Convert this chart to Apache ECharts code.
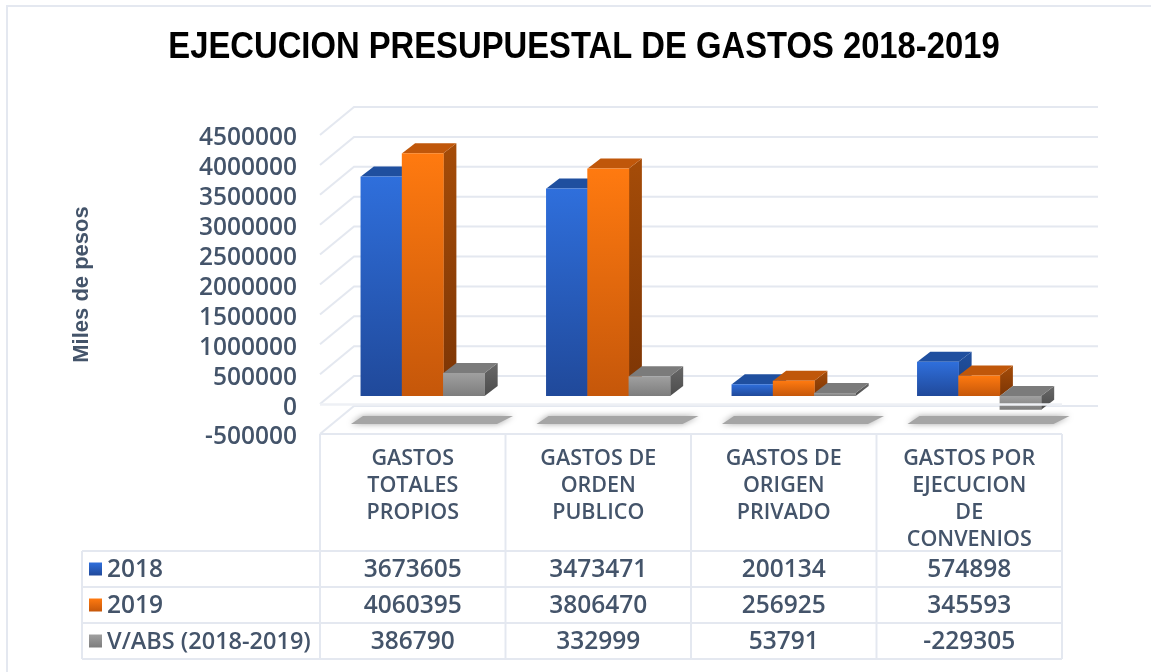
<!DOCTYPE html>
<html>
<head>
    <meta charset="utf-8">
    <title>Ejecucion presupuestal de gastos</title>
    <script src="https://cdn.jsdelivr.net/npm/echarts@6/dist/echarts.min.js"></script>
    <style>html,body{margin:0;padding:0;background:#fff;}</style>
</head>
<body>
    <div id="main" style="width:1151px;height:672px;"></div>
    <script type="text/javascript">
        var categories=['GASTOS\nTOTALES\nPROPIOS','GASTOS DE\nORDEN\nPUBLICO','GASTOS DE\nORIGEN\nPRIVADO','GASTOS POR\nEJECUCION\nDE\nCONVENIOS'];
        var serie2018=[3673605,3473471,200134,574898];
        var serie2019=[4060395,3806470,256925,345593];
        var serieVabs=[386790,332999,53791,-229305];
        var wallTicks=[-500000,0,500000,1000000,1500000,2000000,2500000,3000000,3500000,4000000,4500000];

        var textColor='#44546a';
        var gridColor='#e4e8f0';
        var fontName='"Open Sans"';
        var gridLeft=320,gridTop=135,gridW=742,gridH=299;
        var wallDx=34,wallDy=-28;   //profundidad de las paredes
        var barDx=13,barDy=-10;     //profundidad de la barra
        var frontDx=10,frontDy=-8;  //plano frontal de las barras

        var blue={front:['#2f6fdc','#20499a'],top:'#1f4f9f',side:['#20509f','#1a3f80']};
        var orange={front:['#ff7a10','#c5570a'],top:'#c0570a',side:['#a54c08','#7c3505']};
        var gray={front:['#a0a0a0','#7d7d7d'],top:'#7b7b7b',side:['#686868','#4c4c4c']};

        function vgrad(c){
            return new echarts.graphic.LinearGradient(0,0,0,1,[{offset:0,color:c[0]},{offset:1,color:c[1]}]);
        }
        //barra 3D: cara lateral, superior y frontal
        function bar3d(pos,colors){
            return function(params,api){
                var bw=api.size([1,0])[0];
                var w=bw*0.2225;
                var x=api.coord([api.value(0),0])[0]-1.5*w+pos*w+frontDx;
                var y0=api.coord([0,0])[1]+frontDy;
                var y1=api.coord([0,api.value(1)])[1]+frontDy;
                var yt=Math.min(y0,y1),yb=Math.max(y0,y1);
                return {type:'group',children:[
                    {type:'polygon',shape:{points:[[x+w,yt],[x+w+barDx,yt+barDy],[x+w+barDx,yb+barDy],[x+w,yb]]},style:{fill:vgrad(colors.side)}},
                    {type:'polygon',shape:{points:[[x,yt],[x+barDx,yt+barDy],[x+w+barDx,yt+barDy],[x+w,yt]]},style:{fill:colors.top}},
                    {type:'rect',shape:{x:x-0.3,y:yt,width:w+0.6,height:yb-yt},style:{fill:vgrad(colors.front)}}
                ]};
            };
        }
        function barSeries(name,values,pos,colors,z){
            return {
                name:name,
                type:'custom',
                z:z,
                clip:false,
                renderItem:bar3d(pos,colors),
                encode:{x:0,y:1},
                data:values.map(function(v,i){return [i,v];})
            };
        }
        //paredes del grafico: linea lateral y linea de fondo por cada tick
        var wallSeries={
            type:'custom',
            z:1,
            clip:false,
            silent:true,
            renderItem:function(params,api){
                var y=api.coord([0,api.value(1)])[1];
                var l=params.coordSys.x,r=l+params.coordSys.width;
                return {type:'polyline',shape:{points:[[l,y],[l+wallDx,y+wallDy],[r+wallDx+2,y+wallDy]]},
                    style:{fill:'none',stroke:gridColor,lineWidth:2}};
            },
            encode:{x:0,y:1},
            data:wallTicks.map(function(v){return [0,v];})
        };
        //sombra gris bajo cada categoria
        var shadowSeries={
            type:'custom',
            z:2,
            clip:false,
            silent:true,
            renderItem:function(params,api){
                var c=api.coord([api.value(0),0]);
                var bw=api.size([1,0])[0];
                var x=c[0]-bw/2,y=c[1];
                return {type:'polygon',shape:{points:[[x+43,y+12],[x+193,y+12],[x+177,y+20],[x+31,y+20]]},
                    style:{fill:'#a5a5a5',shadowBlur:6,shadowColor:'#a5a5a5'}};
            },
            encode:{x:0,y:1},
            data:categories.map(function(c,i){return [i,0];})
        };
        //linea frontal del piso, encima de la barra negativa
        var floorSeries={
            type:'custom',
            z:9,
            clip:false,
            silent:true,
            renderItem:function(params,api){
                var y=api.coord([0,0])[1];
                var l=params.coordSys.x;
                return {type:'line',shape:{x1:l,y1:y+0.5,x2:l+params.coordSys.width,y2:y+0.5},
                    style:{stroke:'#eef0f5',lineWidth:2.5}};
            },
            encode:{x:0,y:1},
            data:[[0,0]]
        };

        //tabla de datos y bordes
        var rows=[
            {name:'2018',values:serie2018,colors:blue},
            {name:'2019',values:serie2019,colors:orange},
            {name:'V/ABS (2018-2019)',values:serieVabs,colors:gray}
        ];
        var rowY=[551,587,623,659];
        var tableLeft=82;
        var cellW=gridW/categories.length;
        var graphics=[];
        function addLine(x1,y1,x2,y2){
            graphics.push({type:'line',z:20,shape:{x1:x1,y1:y1,x2:x2,y2:y2},style:{stroke:gridColor,lineWidth:2}});
        }
        graphics.push({type:'rect',z:0,shape:{x:7,y:6,width:1160,height:680},style:{fill:'#fff',stroke:gridColor,lineWidth:2}});
        rowY.forEach(function(y){addLine(tableLeft,y,gridLeft+gridW,y);});
        addLine(tableLeft,rowY[0],tableLeft,rowY[3]);
        addLine(gridLeft,gridTop+gridH,gridLeft+gridW,gridTop+gridH);
        for(var i=0;i<=categories.length;i++){
            addLine(gridLeft+i*cellW,gridTop+gridH,gridLeft+i*cellW,rowY[3]);
        }
        rows.forEach(function(row,r){
            var cy=(rowY[r]+rowY[r+1])/2;
            graphics.push({type:'rect',z:20,shape:{x:89,y:cy-6.5,width:13,height:13},style:{fill:vgrad(row.colors.front)}});
            graphics.push({type:'text',z:20,x:107,y:cy+1,style:{text:row.name,font:'600 '+(r===2?23.5:24.5)+'px '+fontName,fill:textColor,textVerticalAlign:'middle'}});
            row.values.forEach(function(v,c){
                graphics.push({type:'text',z:20,x:gridLeft+(c+0.5)*cellW,y:cy+1,style:{text:String(v),font:'600 24.5px '+fontName,fill:textColor,textAlign:'center',textVerticalAlign:'middle'}});
            });
        });
        //titulo condensado
        graphics.push({type:'text',z:20,x:584,y:48,scaleX:0.886,style:{
            text:'EJECUCION PRESUPUESTAL DE GASTOS 2018-2019',
            font:'bold 37px "Liberation Sans"',fill:'#000',textAlign:'center',textVerticalAlign:'middle'}});

        var myChart=echarts.init(document.getElementById('main'));
        var option={
            animation:false,
            backgroundColor:'#fff',
            grid:{left:gridLeft,top:gridTop,width:gridW,height:gridH},
            xAxis:{
                type:'category',
                data:categories,
                position:'bottom',
                axisLine:{show:false},
                axisTick:{show:false},
                axisLabel:{
                    interval:0,
                    margin:11,
                    fontFamily:fontName,
                    fontWeight:600,
                    fontSize:21.5,
                    lineHeight:27,
                    color:textColor
                }
            },
            yAxis:{
                type:'value',
                min:-500000,
                max:4500000,
                interval:500000,
                name:'Miles de pesos',
                nameLocation:'middle',
                nameGap:227,
                nameTextStyle:{fontFamily:'"Liberation Sans"',fontWeight:'bold',fontSize:22,color:textColor},
                axisLine:{show:false},
                axisTick:{show:false},
                splitLine:{show:false},
                axisLabel:{
                    margin:23,
                    color:textColor,
                    formatter:function(v){return '{n|'+v+'}';},
                    rich:{n:{fontFamily:fontName,fontWeight:600,fontSize:24.5,color:textColor,padding:[7,0,0,0]}}
                }
            },
            graphic:graphics,
            series:[
                wallSeries,
                shadowSeries,
                barSeries('2018',serie2018,0,blue,3),
                barSeries('2019',serie2019,1,orange,4),
                barSeries('V/ABS (2018-2019)',serieVabs,2,gray,5),
                floorSeries
            ]
        };
        myChart.setOption(option);
    </script>
</body>
</html>
